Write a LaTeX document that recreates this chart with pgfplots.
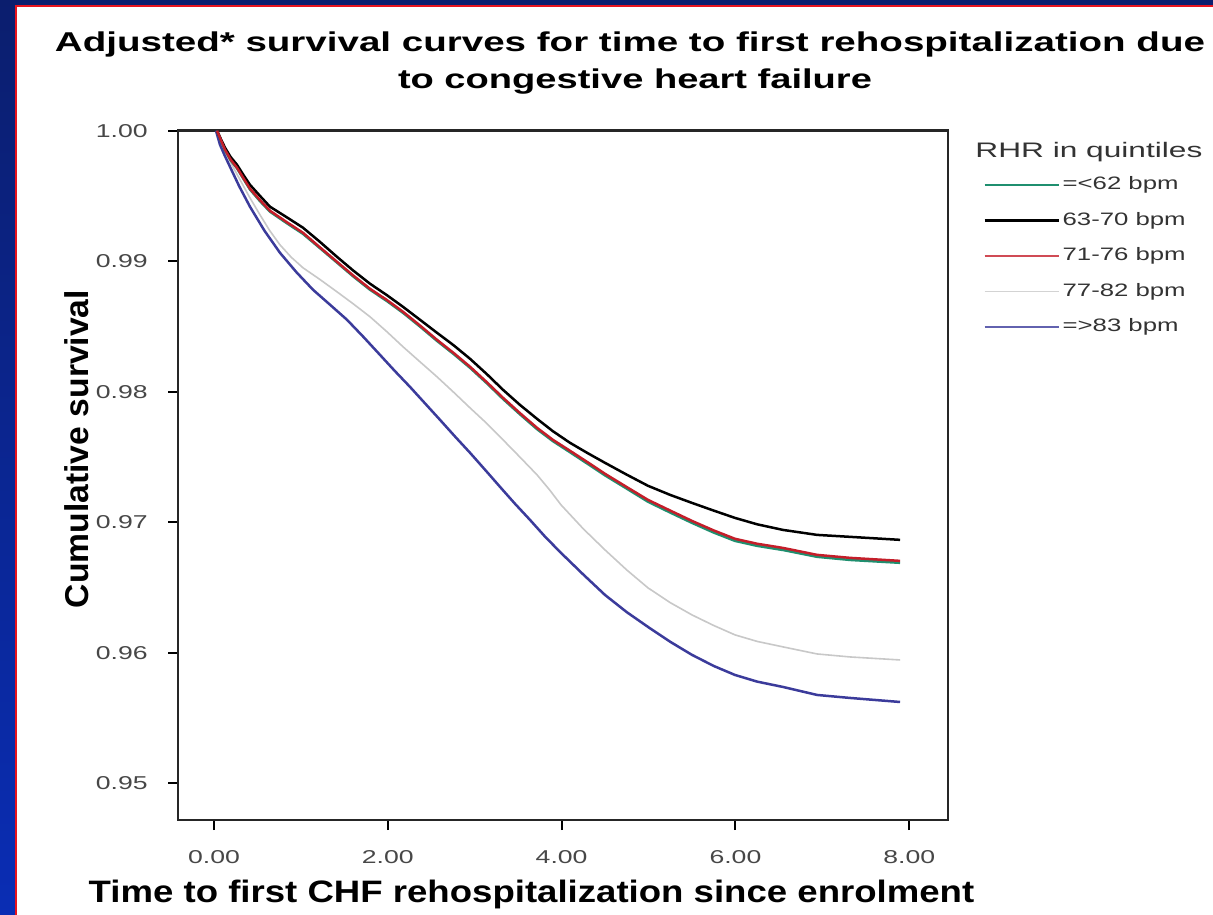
\documentclass[border=0pt]{standalone}
\usepackage{fontspec}
\usepackage{graphicx}
\usepackage{pgfplots}
\pgfplotsset{compat=1.18}
\setmainfont{Liberation Sans}
\newfontfamily\tickfont{Liberation Sans}[FakeStretch=1.43]
\newfontfamily\titlefont{Liberation Sans}[FakeStretch=1.40]
\newfontfamily\labfont{Liberation Sans}[FakeStretch=1.18]
\definecolor{navytop}{HTML}{0B1E6E}
\definecolor{navybot}{HTML}{0A2DB4}
\definecolor{framered}{HTML}{E8141E}
\definecolor{cgreen}{HTML}{1F8F6F}
\definecolor{cred}{HTML}{C41E2A}
\definecolor{cgray}{HTML}{C8C8C8}
\definecolor{cblue}{HTML}{3B3B9B}
\begin{document}
\begin{tikzpicture}
\path[use as bounding box] (0,0) rectangle (606.5bp,-457.5bp);
\fill[white] (0,0) rectangle (606.5bp,-457.5bp);
\shade[top color=navytop, bottom color=navybot] (0,0) rectangle (7.5bp,-457.5bp);
\fill[navytop] (0,0) rectangle (606.5bp,-2.5bp);
\fill[framered] (7.5bp,-2.5bp) rectangle (8.65bp,-457.5bp);
\fill[framered] (7.5bp,-2.5bp) rectangle (606.5bp,-3.65bp);
\begin{axis}[
  at={(89bp,-410bp)}, anchor=south west,
  scale only axis, width=385bp, height=344.65bp,
  xmin=-0.414, xmax=8.446, ymin=0.9472, ymax=1.0,
  xtick={0,2,4,6,8}, xticklabels={0.00,2.00,4.00,6.00,8.00},
  ytick={0.95,0.96,0.97,0.98,0.99,1.00},
  yticklabels={0.95,0.96,0.97,0.98,0.99,1.00},
  tick pos=left, tick align=outside, major tick length=5bp,
  tick style={line width=1bp, black},
  axis line style={line width=1.3bp, black!85},
  ticklabel style={font=\tickfont\fontsize{9.3bp}{11bp}\selectfont, text=black!72, inner sep=0pt},
  yticklabel style={xshift=-10bp},
  xticklabel style={yshift=-10bp},
  legend style={at={(1.0455,0.934)}, anchor=north west, draw=none, fill=none,
    inner sep=0pt, row sep=9.25bp,
    font=\tickfont\fontsize{9bp}{10bp}\selectfont, text=black!80,
    nodes={inner sep=0pt, text height=6.5bp, text depth=2bp},
    /tikz/every odd column/.style={column sep=1.5bp}},
  legend image code/.code={\draw[#1] (0bp,0bp) -- (37bp,0bp);},
  legend cell align=left,
]
% 77-82 bpm (gray)
\addplot[forget plot, cgray, line width=0.8bp] coordinates {
(0.035,1.0) (0.080,0.99920) (0.127,0.99854) (0.200,0.99745) (0.299,0.99625) (0.410,0.99490) (0.529,0.99356) (0.640,0.99236) (0.759,0.99126)
(0.890,0.99030) (1.024,0.98950) (1.220,0.98860) (1.415,0.98766) (1.600,0.98675) (1.795,0.98575) (1.990,0.98460) (2.175,0.98345) (2.370,0.98230) (2.566,0.98115)
(2.760,0.97995) (2.946,0.97877) (3.140,0.97757) (3.326,0.97632) (3.520,0.97500) (3.717,0.97364) (3.860,0.97250) (3.993,0.97134) (4.250,0.96950) (4.499,0.96789)
(4.750,0.96635) (4.994,0.96498) (5.250,0.96385) (5.500,0.96291) (5.750,0.96210) (5.995,0.96138) (6.250,0.96088) (6.548,0.96046) (6.939,0.95992)
(7.319,0.95969) (7.894,0.95946)};
% =>83 bpm (blue)
\addplot[forget plot, cblue, line width=1.25bp] coordinates {
(0.023,1.0) (0.069,0.99893) (0.120,0.99815) (0.184,0.99724) (0.290,0.99575) (0.414,0.99418) (0.580,0.99235) (0.759,0.99065)
(0.950,0.98915) (1.139,0.98782) (1.330,0.98670) (1.530,0.98552) (1.720,0.98420) (1.910,0.98283) (2.080,0.98160) (2.255,0.98038) (2.430,0.97910) (2.601,0.97785)
(2.770,0.97660) (2.946,0.97533) (3.120,0.97402) (3.291,0.97272) (3.460,0.97145) (3.636,0.97019) (3.810,0.96890) (3.993,0.96766) (4.250,0.96600) (4.499,0.96444)
(4.750,0.96312) (4.994,0.96199) (5.250,0.96085) (5.500,0.95985) (5.750,0.95900) (5.995,0.95831) (6.250,0.95780) (6.548,0.95739) (6.939,0.95678)
(7.319,0.95655) (7.894,0.95624)};
% =<62 bpm (green)
\addplot[forget plot, cgreen, line width=1.25bp] coordinates {
(0.035,1.0) (0.080,0.99925) (0.127,0.99850) (0.190,0.99775) (0.265,0.99712) (0.340,0.99630) (0.414,0.99550) (0.530,0.99460) (0.644,0.99380)
(0.830,0.99295) (1.024,0.99210) (1.220,0.99100) (1.415,0.98990) (1.600,0.98885) (1.795,0.98782) (1.990,0.98695) (2.175,0.98605) (2.370,0.98500) (2.566,0.98390)
(2.760,0.98288) (2.946,0.98184) (3.140,0.98065) (3.326,0.97945) (3.520,0.97828) (3.717,0.97714) (3.900,0.97622) (4.097,0.97537) (4.300,0.97448) (4.499,0.97360)
(4.750,0.97258) (4.994,0.97158) (5.250,0.97075) (5.500,0.96996) (5.750,0.96922) (5.995,0.96858) (6.250,0.96820) (6.548,0.96788) (6.939,0.96736)
(7.319,0.96712) (7.894,0.96690)};
% 63-70 bpm (black)
\addplot[forget plot, black, line width=1.25bp] coordinates {
(0.035,1.0) (0.080,0.99935) (0.127,0.99870) (0.190,0.99800) (0.265,0.99739) (0.340,0.99660) (0.414,0.99586) (0.530,0.99500) (0.644,0.99418)
(0.830,0.99340) (1.024,0.99257) (1.220,0.99148) (1.415,0.99034) (1.600,0.98930) (1.795,0.98828) (1.990,0.98740) (2.175,0.98651) (2.370,0.98552) (2.566,0.98452)
(2.760,0.98355) (2.946,0.98253) (3.140,0.98135) (3.326,0.98015) (3.520,0.97900) (3.717,0.97793) (3.900,0.97698) (4.097,0.97609) (4.300,0.97530) (4.499,0.97456)
(4.750,0.97365) (4.994,0.97280) (5.250,0.97210) (5.500,0.97149) (5.750,0.97090) (5.995,0.97034) (6.250,0.96985) (6.548,0.96942) (6.939,0.96904)
(7.319,0.96889) (7.894,0.96866)};
% 71-76 bpm (red)
\addplot[forget plot, cred, line width=1.25bp] coordinates {
(0.035,1.0) (0.080,0.99928) (0.127,0.99854) (0.190,0.99780) (0.265,0.99716) (0.340,0.99635) (0.414,0.99556) (0.530,0.99468) (0.644,0.99387)
(0.830,0.99303) (1.024,0.99218) (1.220,0.99106) (1.415,0.98996) (1.600,0.98892) (1.795,0.98789) (1.990,0.98703) (2.175,0.98613) (2.370,0.98508) (2.566,0.98398)
(2.760,0.98296) (2.946,0.98192) (3.140,0.98073) (3.326,0.97954) (3.520,0.97837) (3.717,0.97724) (3.900,0.97632) (4.097,0.97548) (4.300,0.97460) (4.499,0.97372)
(4.750,0.97270) (4.994,0.97172) (5.250,0.97090) (5.500,0.97011) (5.750,0.96938) (5.995,0.96874) (6.250,0.96836) (6.548,0.96804) (6.939,0.96751)
(7.319,0.96728) (7.894,0.96705)};
\addlegendimage{cgreen, line width=1.1bp}\addlegendentry{=<62 bpm}
\addlegendimage{black, line width=1.1bp}\addlegendentry{63-70 bpm}
\addlegendimage{cred!80!white, line width=1.1bp}\addlegendentry{71-76 bpm}
\addlegendimage{cgray!80!white, line width=0.8bp}\addlegendentry{77-82 bpm}
\addlegendimage{cblue!80!white, line width=1.1bp}\addlegendentry{=>83 bpm}
\end{axis}
\node[anchor=base, inner sep=0pt, font=\titlefont\bfseries\fontsize{13.6bp}{15bp}\selectfont] at (315bp,-25.5bp) {\resizebox{575bp}{\height}{Adjusted* survival curves for time to first rehospitalization due}};
\node[anchor=base, inner sep=0pt, font=\titlefont\bfseries\fontsize{13.6bp}{15bp}\selectfont] at (317.5bp,-44bp) {to congestive heart failure};
\node[anchor=base, font=\labfont\bfseries\fontsize{15.5bp}{18bp}\selectfont] at (265.75bp,-451bp) {Time to first CHF rehospitalization since enrolment};
\node[rotate=90, anchor=center, font=\labfont\bfseries\fontsize{16.5bp}{18bp}\selectfont] at (38.5bp,-224.5bp) {\resizebox{159bp}{\height}{Cumulative survival}};
\node[anchor=base west, inner sep=0pt, font=\tickfont\fontsize{10.5bp}{12bp}\selectfont, text=black!80] at (487.5bp,-78.5bp) {\resizebox{113.5bp}{\height}{RHR in quintiles}};
\end{tikzpicture}
\end{document}
